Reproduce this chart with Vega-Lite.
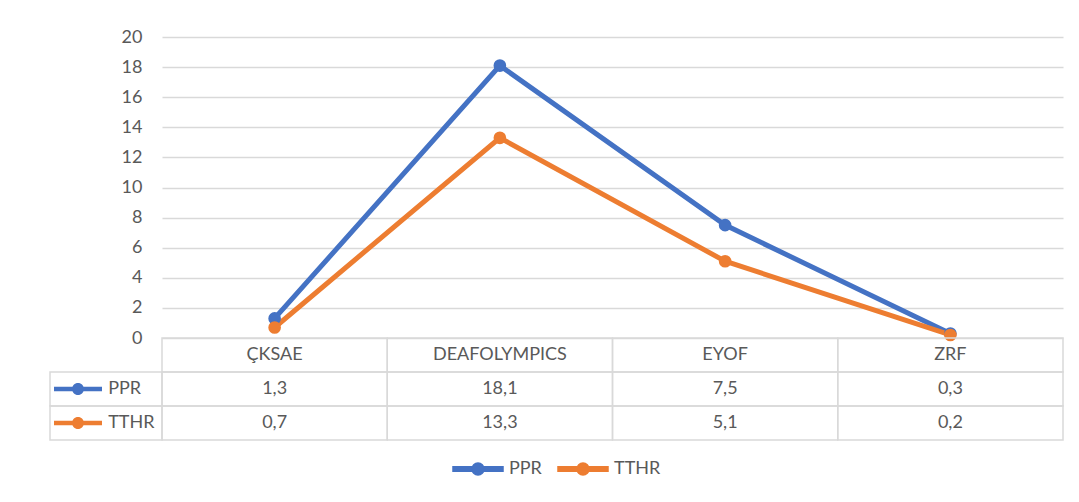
{
  "$schema": "https://vega.github.io/schema/vega-lite/v6.json",
  "autosize": {"type": "none"},
  "padding": {"left": 162, "top": 37, "right": 16, "bottom": 62},
  "width": 901,
  "height": 403,
  "background": "white",
  "datasets": {
    "d": [
      {"category": "ÇKSAE", "series": "PPR", "value": 1.3},
      {"category": "DEAFOLYMPICS", "series": "PPR", "value": 18.1},
      {"category": "EYOF", "series": "PPR", "value": 7.5},
      {"category": "ZRF", "series": "PPR", "value": 0.3},
      {"category": "ÇKSAE", "series": "TTHR", "value": 0.7},
      {"category": "DEAFOLYMPICS", "series": "TTHR", "value": 13.3},
      {"category": "EYOF", "series": "TTHR", "value": 5.1},
      {"category": "ZRF", "series": "TTHR", "value": 0.2}
    ]
  },
  "data": {"name": "d"},
  "config": {
    "view": {"stroke": null},
    "font": "Lato",
    "locale": {"number": {"decimal": ",", "thousands": ".", "grouping": [3], "currency": ["", ""]}},
    "text": {"font": "Lato", "fontSize": 18, "fill": "#595959"}
  },
  "resolve": {"scale": {"x": "independent", "y": "independent"}},
  "layer": [
    {
      "mark": {"type": "line", "strokeWidth": 5, "point": {"filled": true, "size": 160, "opacity": 1}},
      "encoding": {
        "x": {"field": "category", "type": "nominal", "scale": {"domain": ["ÇKSAE", "DEAFOLYMPICS", "EYOF", "ZRF"]}, "axis": null},
        "y": {
          "field": "value", "type": "quantitative",
          "scale": {"domain": [0, 20], "range": [301, 0], "nice": false},
          "axis": {
            "values": [0, 2, 4, 6, 8, 10, 12, 14, 16, 18, 20],
            "grid": true, "gridColor": "#d9d9d9", "gridWidth": 1.5,
            "domain": false, "ticks": false, "labelPadding": 20,
            "labelFont": "Lato", "labelFontSize": 18, "labelColor": "#595959", "title": null
          }
        },
        "color": {
          "field": "series", "type": "nominal",
          "scale": {"domain": ["PPR", "TTHR"], "range": ["#4472C4", "#ED7D31"]},
          "legend": {
            "orient": "none", "legendX": 290, "legendY": 406, "direction": "horizontal", "title": null,
            "symbolType": "M-1,-0.09H1V0.09H-1Z M0.24,0A0.24,0.24,0,1,1,-0.24,0A0.24,0.24,0,1,1,0.24,0Z",
            "symbolSize": 2500, "labelFontSize": 18, "labelColor": "#595959", "labelFont": "Lato",
            "labelOffset": 5, "columnPadding": 13, "padding": 0, "symbolOpacity": 1,
            "encode": {"symbols": {"update": {"fill": {"scale": "color", "field": "value"}, "stroke": {"value": "transparent"}, "opacity": {"value": 1}}}}
          }
        }
      }
    },
    {
      "layer": [
        {
          "transform": [{"filter": "datum.series === 'PPR'"}],
          "mark": {"type": "rect", "fillOpacity": 0, "stroke": "#d9d9d9", "strokeWidth": 1.5},
          "encoding": {
            "x": {"field": "category", "type": "nominal", "scale": {"domain": ["ÇKSAE", "DEAFOLYMPICS", "EYOF", "ZRF"], "paddingInner": 0, "paddingOuter": 0}, "axis": null},
            "y": {"datum": "hdr", "type": "nominal", "scale": {"domain": ["hdr", "PPR", "TTHR"], "range": [301, 403], "paddingInner": 0, "paddingOuter": 0}, "axis": null}
          }
        },
        {
          "transform": [{"filter": "datum.series === 'PPR'"}],
          "mark": {"type": "text", "align": "center", "baseline": "middle"},
          "encoding": {
            "x": {"field": "category", "type": "nominal", "scale": {"domain": ["ÇKSAE", "DEAFOLYMPICS", "EYOF", "ZRF"], "paddingInner": 0, "paddingOuter": 0}, "axis": null},
            "y": {"datum": "hdr", "type": "nominal", "scale": {"domain": ["hdr", "PPR", "TTHR"], "range": [301, 403], "paddingInner": 0, "paddingOuter": 0}, "axis": null},
            "text": {"field": "category"}
          }
        },
        {
          "mark": {"type": "rect", "fillOpacity": 0, "stroke": "#d9d9d9", "strokeWidth": 1.5},
          "encoding": {
            "x": {"field": "category", "type": "nominal", "scale": {"domain": ["ÇKSAE", "DEAFOLYMPICS", "EYOF", "ZRF"], "paddingInner": 0, "paddingOuter": 0}, "axis": null},
            "y": {"field": "series", "type": "nominal", "scale": {"domain": ["hdr", "PPR", "TTHR"], "range": [301, 403], "paddingInner": 0, "paddingOuter": 0}, "axis": null}
          }
        },
        {
          "mark": {"type": "text", "align": "center", "baseline": "middle"},
          "encoding": {
            "x": {"field": "category", "type": "nominal", "scale": {"domain": ["ÇKSAE", "DEAFOLYMPICS", "EYOF", "ZRF"], "paddingInner": 0, "paddingOuter": 0}, "axis": null},
            "y": {"field": "series", "type": "nominal", "scale": {"domain": ["hdr", "PPR", "TTHR"], "range": [301, 403], "paddingInner": 0, "paddingOuter": 0}, "axis": null},
            "text": {"field": "value", "type": "quantitative", "format": ".1f"}
          }
        }
      ]
    },
    {
      "layer": [
        {
          "transform": [{"filter": "datum.category === 'ÇKSAE'"}],
          "mark": {"type": "rect", "fillOpacity": 0, "stroke": "#d9d9d9", "strokeWidth": 1.5},
          "encoding": {
            "x": {"datum": "lg", "type": "nominal", "scale": {"domain": ["lg"], "range": [-112, 0], "paddingInner": 0, "paddingOuter": 0}, "axis": null},
            "y": {"field": "series", "type": "nominal", "scale": {"domain": ["hdr", "PPR", "TTHR"], "range": [301, 403], "paddingInner": 0, "paddingOuter": 0}, "axis": null}
          }
        },
        {
          "transform": [{"filter": "datum.category === 'ÇKSAE'"}],
          "mark": {"type": "point", "filled": true, "opacity": 1, "size": 2304, "shape": "M-1,-0.09H1V0.09H-1Z M0.25,0A0.25,0.25,0,1,1,-0.25,0A0.25,0.25,0,1,1,0.25,0Z"},
          "encoding": {
            "x": {"datum": "lg", "type": "nominal", "bandPosition": 0.25, "scale": {"domain": ["lg"], "range": [-112, 0], "paddingInner": 0, "paddingOuter": 0}, "axis": null},
            "y": {"field": "series", "type": "nominal", "scale": {"domain": ["hdr", "PPR", "TTHR"], "range": [301, 403], "paddingInner": 0, "paddingOuter": 0}, "axis": null},
            "color": {"field": "series", "type": "nominal", "scale": {"domain": ["PPR", "TTHR"], "range": ["#4472C4", "#ED7D31"]}}
          }
        },
        {
          "transform": [{"filter": "datum.category === 'ÇKSAE'"}],
          "mark": {"type": "text", "align": "left", "baseline": "middle"},
          "encoding": {
            "x": {"datum": "lg", "type": "nominal", "bandPosition": 0.52, "scale": {"domain": ["lg"], "range": [-112, 0], "paddingInner": 0, "paddingOuter": 0}, "axis": null},
            "y": {"field": "series", "type": "nominal", "scale": {"domain": ["hdr", "PPR", "TTHR"], "range": [301, 403], "paddingInner": 0, "paddingOuter": 0}, "axis": null},
            "text": {"field": "series"}
          }
        }
      ]
    }
  ]
}
